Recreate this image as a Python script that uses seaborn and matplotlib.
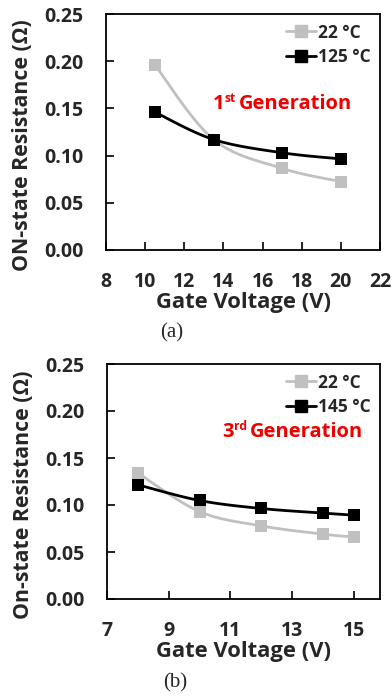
import numpy as np
import pandas as pd
import seaborn as sns
import matplotlib
matplotlib.use("Agg")
import matplotlib.pyplot as plt
from matplotlib.lines import Line2D

# ---- data ----
vg_a = [10.5, 13.5, 17, 20]
r_a_22 = [0.196, 0.117, 0.0865, 0.0725]
r_a_125 = [0.146, 0.117, 0.103, 0.0965]
labels_a = ["22 °C", "125 °C"]

vg_b = [8, 10, 12, 14, 15]
r_b_22 = [0.134, 0.093, 0.0778, 0.069, 0.066]
r_b_145 = [0.1215, 0.1048, 0.0963, 0.0914, 0.0892]
labels_b = ["22 °C", "145 °C"]

xticks_a = [8, 10, 12, 14, 16, 18, 20, 22]
xticks_b = [7, 9, 11, 13, 15]
yticks = [0.00, 0.05, 0.10, 0.15, 0.20, 0.25]

GRAY = "#c0c0c0"
BLACK = "#000000"
RED = "#ee0000"

sns.set_theme(style="white")
plt.rcParams["font.family"] = ["Open Sans", "DejaVu Sans"]
plt.rcParams["font.weight"] = "bold"


def catmull(x, y, n=30):
    x = np.asarray(x, float); y = np.asarray(y, float)
    px = np.concatenate([[x[0]], x, [x[-1]]])
    py = np.concatenate([[y[0]], y, [y[-1]]])
    xs, ys = [], []
    t = np.linspace(0, 1, n)
    for i in range(1, len(px) - 2):
        for arr, out in ((px, xs), (py, ys)):
            p0, p1, p2, p3 = arr[i - 1], arr[i], arr[i + 1], arr[i + 2]
            seg = 0.5 * ((2 * p1) + (-p0 + p2) * t + (2 * p0 - 5 * p1 + 4 * p2 - p3) * t ** 2
                         + (-p0 + 3 * p1 - 3 * p2 + p3) * t ** 3)
            out.extend(seg)
    return np.array(xs), np.array(ys)


fig = plt.figure(figsize=(3.92, 7.0), dpi=100)
W, H = 392, 700
ax1 = fig.add_axes([106 / W, (H - 250) / H, 274 / W, 236 / H])
ax2 = fig.add_axes([107 / W, (H - 599) / H, 273 / W, 235 / H])

TICK_FS = 14
XLAB_FS = 15.8
YLAB_FS = 15.3
LEG_FS = 12.5
GEN_FS = 14.5
LW = 2.0
MS = 9


def draw(ax, x, series, colors, labels, xlim, xticks, ylabel, gen_num, gen_sup, gen_xy):
    for yv, c in zip(series, colors):
        sx, sy = catmull(x, yv)
        sns.lineplot(x=sx, y=sy, ax=ax, color=c, lw=LW, sort=False, estimator=None)
        sns.scatterplot(x=x, y=yv, ax=ax, color=c, marker="s", s=MS ** 2, edgecolor=c,
                        linewidth=0, zorder=5)
    ax.set_xlim(*xlim)
    ax.set_ylim(0, 0.25)
    ax.set_xticks(xticks)
    ax.set_yticks(yticks)
    ax.set_yticklabels([f"{v:.2f}" for v in yticks])
    ax.tick_params(axis="both", direction="in", length=6, width=1.2, color="black",
                   labelsize=TICK_FS, pad=16, bottom=True, left=True)
    for lab in ax.get_xticklabels() + ax.get_yticklabels():
        lab.set_fontweight("bold")
    for s in ax.spines.values():
        s.set_color("black"); s.set_linewidth(1.3)
    ax.set_xlabel("Gate Voltage (V)", fontsize=XLAB_FS, fontweight="bold", labelpad=0)
    ax.set_ylabel(ylabel, fontsize=YLAB_FS, fontweight="bold")
    ax.yaxis.set_label_coords(-0.268, 0.445)
    handles = [Line2D([], [], color=c, lw=LW, marker="s", markersize=8.5) for c in colors]
    ax.legend(handles, labels, loc="upper right", frameon=False,
              handlelength=1.75, handletextpad=0.1, borderaxespad=0.15, labelspacing=0.4,
              prop={"weight": "bold", "size": LEG_FS})
    t1 = ax.text(gen_xy[0], gen_xy[1], gen_num, color=RED, fontsize=GEN_FS, fontweight="bold",
                 ha="left", va="center")
    t2 = ax.annotate(gen_sup, xy=(1.0, 0.78), xycoords=t1, color=RED, fontsize=GEN_FS * 0.6,
                     fontweight="bold", ha="left", va="center")
    ax.annotate("Generation", xy=(1.0, 0.5), xycoords=(t2, t1), xytext=(2.5, 0),
                textcoords="offset points", color=RED, fontsize=GEN_FS, fontweight="bold",
                ha="left", va="center")


draw(ax1, vg_a, [r_a_22, r_a_125], [GRAY, BLACK], labels_a, (8, 22), xticks_a,
     "ON-state Resistance (Ω)", "1", "st", (13.45, 0.155))
draw(ax2, vg_b, [r_b_22, r_b_145], [GRAY, BLACK], labels_b, (7, 15.85), xticks_b,
     "On-state Resistance (Ω)", "3", "rd", (10.74, 0.178))

fig.text(172 / W, 1 - 333 / H, "(a)", fontsize=15, fontweight="normal", family="Liberation Serif",
         ha="center", va="center")
fig.text(175 / W, 1 - 683 / H, "(b)", fontsize=15, fontweight="normal", family="Liberation Serif",
         ha="center", va="center")

fig.savefig("out.png", dpi=100)
